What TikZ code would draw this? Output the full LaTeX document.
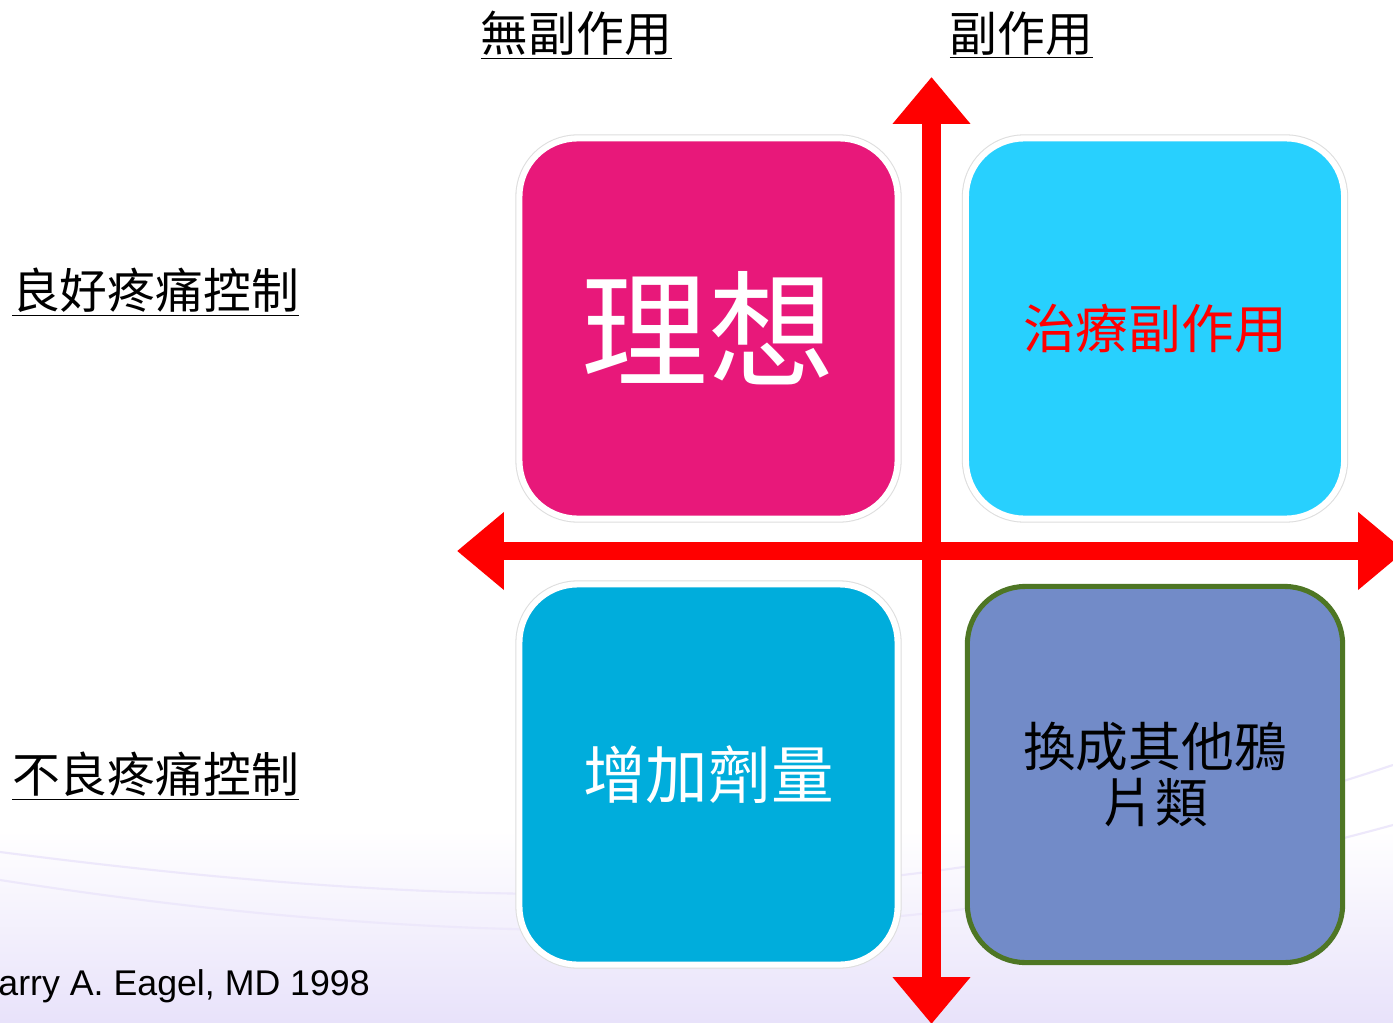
\documentclass[tikz,border=0pt]{standalone}
\usepackage{fontspec}
\setmainfont{Liberation Sans}
\newfontfamily\cjk{Noto Sans CJK TC}
\usetikzlibrary{positioning}
\usetikzlibrary{arrows.meta}
\definecolor{boxpink}{RGB}{232,24,122}
\definecolor{boxcyan}{RGB}{40,208,254}
\definecolor{boxblue}{RGB}{0,173,220}
\definecolor{boxviolet}{RGB}{114,139,200}
\definecolor{boxgreen}{RGB}{78,118,36}
\definecolor{bglav}{RGB}{232,226,250}
\tikzset{
    mybox/.style = {rectangle, rounded corners=1.45cm, minimum width=9.45cm, minimum height=9.5cm, draw=white, line width=4.3pt, preaction={draw=black!13, line width=5.8pt}, align=center},
    myboxp/.style = {mybox, fill=boxpink, text=white, font=\cjk\fontsize{90}{100}\selectfont},
    myboxc/.style = {mybox, fill=boxcyan, text=red, font=\cjk\fontsize{37.5}{40}\selectfont},
    myboxb/.style = {mybox, fill=boxblue, text=white, font=\cjk\fontsize{44.5}{50}\selectfont},
    myboxv/.style = {rectangle, rounded corners=1.45cm, minimum width=9.38cm, minimum height=9.4cm, draw=boxgreen, line width=3.6pt, fill=boxviolet, align=center, font=\cjk\fontsize{37.5}{40}\selectfont},
    mylabel/.style = {font=\cjk\fontsize{34}{40}\selectfont},
    edger/.style = {{Triangle[width=53.3pt,length=33.4pt]}-{Triangle[width=53.3pt,length=33.4pt]}, line width=13.5pt, red},
    wave/.style = {bglav!80, line width=1.5pt}
}

\begin{document}
\begin{tikzpicture}[x=0.025cm, y=-0.025cm]
  \useasboundingbox (0,0) rectangle (1393,1023);
  \clip (0,0) rectangle (1393,1023);
  % background
  \fill[white] (0,0) rectangle (1393,1023);
  \shade[top color=white, bottom color=bglav] (0,830) rectangle (1393,1023);
  \draw[wave] (0,852) .. controls (450,910) and (900,930) .. (1393,765);
  \draw[wave] (0,880) .. controls (450,950) and (900,960) .. (1393,825);

  % headings
  \node[mylabel] (nose) at (576.5,35) {\underline{無副作用}};
  \node[mylabel] (se) at (1021.5,35) {\underline{副作用}};
  \node[mylabel] (good) at (155.5,292) {\underline{良好疼痛控制}};
  \node[mylabel] (poor) at (155.5,776) {\underline{不良疼痛控制}};

  % quadrants
  \node[myboxp] (ideal) at (708.5,328.5) {\raisebox{-3.5pt}{理想}};
  \node[myboxc] (side) at (1155,328.5) {\raisebox{-2pt}{治療副作用}};
  \node[myboxb] (dose) at (708.5,774.5) {\raisebox{-2.5pt}{增加劑量}};
  \node[myboxv] (switch) at (1155,774.5) {換成其他鴉\\片類};

  % axes
  \coordinate (vtop) at (931.5,77);
  \coordinate (vbot) at (931.5,1024);
  \coordinate (hleft) at (457,551);
  \coordinate (hright) at (1405,551);
  \draw[edger] (vtop) -- (vbot);
  \draw[edger] (hleft) -- (hright);

  \node[font=\fontsize{25.4}{30}\selectfont, anchor=base east, inner sep=0pt] (cite) at (370,995) {arry A. Eagel, MD 1998};
\end{tikzpicture}
\end{document}
